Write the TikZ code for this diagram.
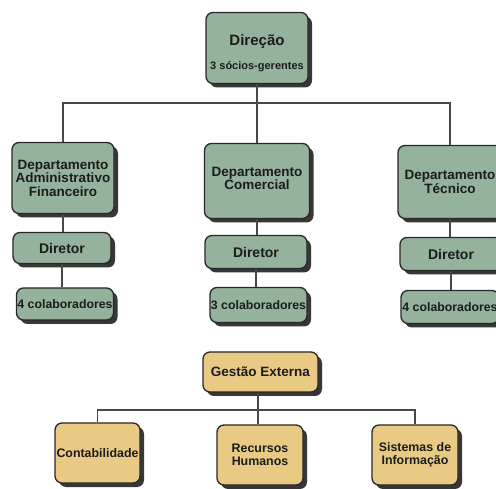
\documentclass[tikz,border=0pt]{standalone}
\usepackage{fontspec}
\setmainfont{Liberation Sans}
\usetikzlibrary{shadows}
\definecolor{sage}{RGB}{148,178,156}
\definecolor{sand}{RGB}{233,202,132}
\definecolor{edge}{RGB}{40,40,40}
\definecolor{shade}{RGB}{55,55,55}
\definecolor{ink}{RGB}{28,28,28}
\newcommand{\fs}[1]{\fontsize{#1}{#1}\selectfont}
\tikzset{
  box/.style={rectangle, rounded corners=7pt, draw=edge, line width=1.3pt,
    align=center, text=ink, font=\bfseries\fs{13.5},
    inner sep=1pt,
    drop shadow={shadow xshift=4pt, shadow yshift=-4pt, fill=shade, opacity=1}},
  gbox/.style={box, fill=sage},
  ybox/.style={box, fill=sand},
  conn/.style={draw=edge!85, line width=1.6pt}
}
\begin{document}
\begin{tikzpicture}[x=1pt,y=-1pt]
\useasboundingbox[fill=white] (0,0) rectangle (496,489);
% management
\node[gbox, minimum width=102pt, minimum height=71pt] (dir) at (257,48) {};
\node[align=center, text=ink, font=\bfseries, inner sep=0pt] (dirtxt) at (257,53)
  {{\fs{15}Direção}\\[12pt]{\fs{11}3 sócios-gerentes}};
% departments
\node[gbox, minimum width=102pt, minimum height=71pt] (dA) at (63,178)
  {Departamento\\Administrativo\\Financeiro};
\node[gbox, minimum width=98pt, minimum height=31pt, font=\bfseries\fs{14}] (dAd) at (62,248) {Diretor};
\node[gbox, minimum width=96pt, minimum height=32pt, font=\bfseries\fs{12.3}] (dAc) at (65,304) {4 colaboradores};
\node[gbox, minimum width=105pt, minimum height=75pt] (dC) at (257,181)
  {Departamento\\Comercial\\[-8pt]\mbox{}};
\node[gbox, minimum width=102pt, minimum height=33pt, font=\bfseries\fs{14}] (dCd) at (256,252) {Diretor};
\node[gbox, minimum width=97pt, minimum height=35pt, font=\bfseries\fs{12.3}] (dCc) at (258.5,305) {3 colaboradores};
\node[gbox, minimum width=104pt, minimum height=73pt] (dT) at (450,182)
  {Departamento\\Técnico};
\node[gbox, minimum width=102pt, minimum height=33pt, font=\bfseries\fs{14}] (dTd) at (451,254) {Diretor};
\node[gbox, minimum width=98pt, minimum height=33pt, font=\bfseries\fs{12.3}] (dTc) at (450,307) {4 colaboradores};
% external services
\node[ybox, minimum width=115pt, minimum height=40pt] (ge) at (260.5,372) {Gestão Externa};
\node[ybox, minimum width=85pt, minimum height=60pt, font=\bfseries\fs{12.4}] (ct) at (97.5,453) {Contabilidade};
\node[ybox, minimum width=86pt, minimum height=60pt, font=\bfseries\fs{12.4}] (rh) at (260,455) {Recursos\\[1pt]Humanos};
\node[ybox, minimum width=86pt, minimum height=60pt, font=\bfseries\fs{12.4}] (si) at (415,455) {Sistemas de\\[1pt]Informação};
% connectors
\coordinate (bus1) at (257,103);
\coordinate (bus2) at (258,410);
\draw[conn] (dir.south) -- (bus1);
\draw[conn] (bus1) -| (dA.north);
\draw[conn] (bus1) -- (dC.north);
\draw[conn] (bus1) -| (dT.north);
\draw[conn] (dA.south) -- (dAd.north -| dA.south);
\draw[conn] (dAd.south) -- (dAc.north -| dAd.south);
\draw[conn] (dC.south) -- (dCd.north -| dC.south);
\draw[conn] (dCd.south) -- (dCc.north -| dCd.south);
\draw[conn] (dT.south) -- (dTd.north -| dT.south);
\draw[conn] (dTd.south) -- (dTc.north -| dTd.south);
\draw[conn] (ge.south -| bus2) -- (bus2);
\draw[conn] (bus2) -| (ct.north);
\draw[conn] (bus2) -- (rh.north -| bus2);
\draw[conn] (bus2) -| (si.north);
\end{tikzpicture}
\end{document}
